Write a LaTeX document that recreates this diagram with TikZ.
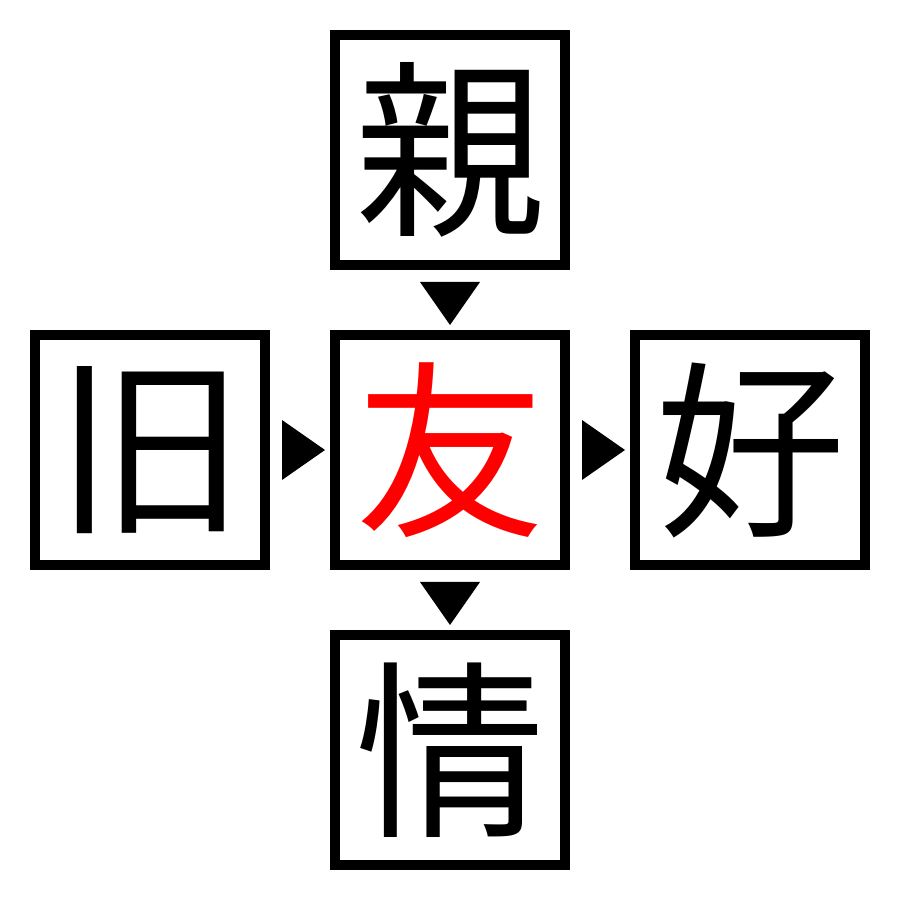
\documentclass[tikz,border=0pt]{standalone}
\usepackage{fontspec}
\newfontfamily\cjk{Noto Sans CJK JP}
\usetikzlibrary{calc}
\begin{document}
\begin{tikzpicture}[x=1pt,y=1pt,
  charbox/.style={draw=black,line width=10pt,minimum size=230pt,inner sep=0pt,
    font=\cjk\fontsize{190}{190}\selectfont},
  tri/.style={fill=black}]
\useasboundingbox (0,0) rectangle (900,900);
\node[charbox,text=red] (c) at (450,450) {友};
\node[charbox] (t) at (450,750) {親};
\node[charbox] (b) at (450,150) {情};
\node[charbox] (l) at (150,450) {旧};
\node[charbox] (r) at (750,450) {好};
\fill[tri] ($(t.south)+(-30,-12)$) -- ($(t.south)+(30,-12)$) -- ($(t.south)+(0,-55)$) -- cycle;
\fill[tri] ($(c.south)+(-30,-12)$) -- ($(c.south)+(30,-12)$) -- ($(c.south)+(0,-55)$) -- cycle;
\fill[tri] ($(l.east)+(12,30)$) -- ($(l.east)+(12,-30)$) -- ($(l.east)+(55,0)$) -- cycle;
\fill[tri] ($(c.east)+(12,30)$) -- ($(c.east)+(12,-30)$) -- ($(c.east)+(55,0)$) -- cycle;
\end{tikzpicture}
\end{document}
